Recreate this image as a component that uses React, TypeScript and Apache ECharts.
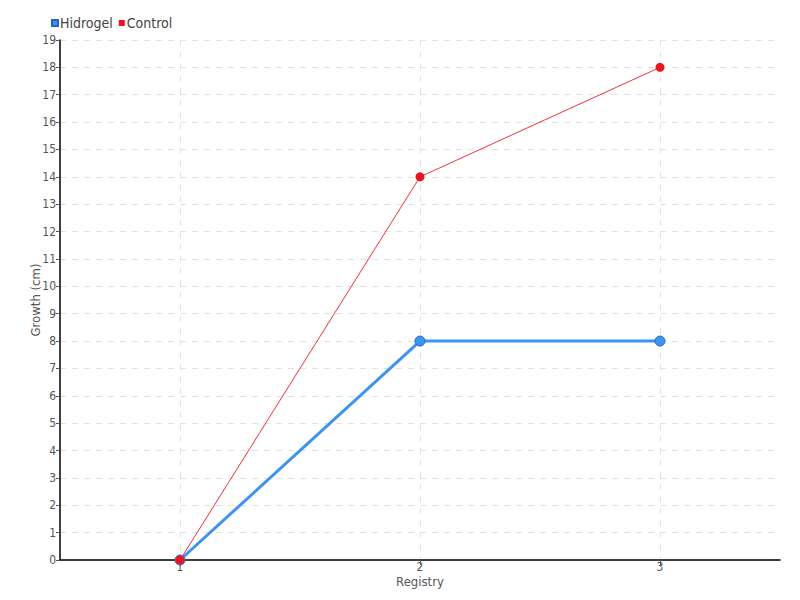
import React, { useEffect, useRef } from "react";
import * as echarts from "echarts";

const registries = [1, 2, 3];
const hidrogel = [0, 8, 8];
const control = [0, 14, 18];
const legendNames = ["Hidrogel", "Control"];

const FONT = "'DejaVu Sans Condensed', 'Liberation Sans Narrow', sans-serif";

export default function App() {
  const ref = useRef<HTMLDivElement>(null);
  useEffect(() => {
    if (!ref.current) return;
    const chart = echarts.init(ref.current, undefined, { renderer: "svg" });
    chart.setOption({
      animation: false,
      textStyle: { fontFamily: FONT },
      legend: {
        data: legendNames.map((n) => ({ name: n, icon: "rect" })),
        left: 46,
        top: 11,
        itemWidth: 6,
        itemHeight: 6,
        itemGap: 6,
        textStyle: { fontFamily: FONT, fontSize: 14, color: "#444", padding: [0, 0, 0, -3] },
      },
      grid: { left: 60, right: 20, top: 40, bottom: 40, containLabel: false },
      xAxis: {
        type: "value",
        min: 0.5,
        max: 3.5,
        name: "Registry",
        nameLocation: "middle",
        nameGap: 15,
        nameMoveOverlap: false,
        nameTextStyle: { fontFamily: FONT, fontSize: 13, color: "#555" },
        axisLine: { show: true, onZero: false, lineStyle: { color: "#000", width: 1.5 } },
        axisTick: { show: true, customValues: registries, length: 5, lineStyle: { color: "#555" } },
        axisLabel: { customValues: registries, fontFamily: FONT, fontSize: 12, color: "#555", margin: 1 },
        splitLine: { show: true, lineStyle: { color: "#e2e2e2", type: [6, 6] } },
      },
      yAxis: {
        type: "value",
        min: 0,
        max: 19,
        interval: 1,
        name: "Growth (cm)",
        nameLocation: "middle",
        nameGap: 18,
        nameMoveOverlap: false,
        nameTextStyle: { fontFamily: FONT, fontSize: 13, color: "#555" },
        axisLine: { show: true, lineStyle: { color: "#000", width: 1.5 } },
        axisTick: { show: true, length: 4, lineStyle: { color: "#555" } },
        axisLabel: { fontFamily: FONT, fontSize: 12, color: "#555", margin: 4 },
        splitLine: { show: true, lineStyle: { color: "#e2e2e2", type: [6, 6] } },
      },
      series: [
        {
          name: "Hidrogel",
          type: "line",
          data: registries.map((r, i) => [r, hidrogel[i]]),
          symbol: "circle",
          symbolSize: 10,
          lineStyle: { color: "#3d93f2", width: 3 },
          itemStyle: { color: "#3d93f2", borderColor: "#2166c0", borderWidth: 1 },
          z: 2,
        },
        {
          name: "Control",
          type: "line",
          data: registries.map((r, i) => [r, control[i]]),
          symbol: "circle",
          symbolSize: 9,
          lineStyle: { color: "#f0303d", width: 1 },
          itemStyle: { color: "#e8141f", borderColor: "#e8141f", borderWidth: 0 },
          z: 3,
        },
      ],
    });
    return () => chart.dispose();
  }, []);
  return <div ref={ref} style={{ width: 800, height: 600, position: "absolute", left: 0, top: 0 }} />;
}
